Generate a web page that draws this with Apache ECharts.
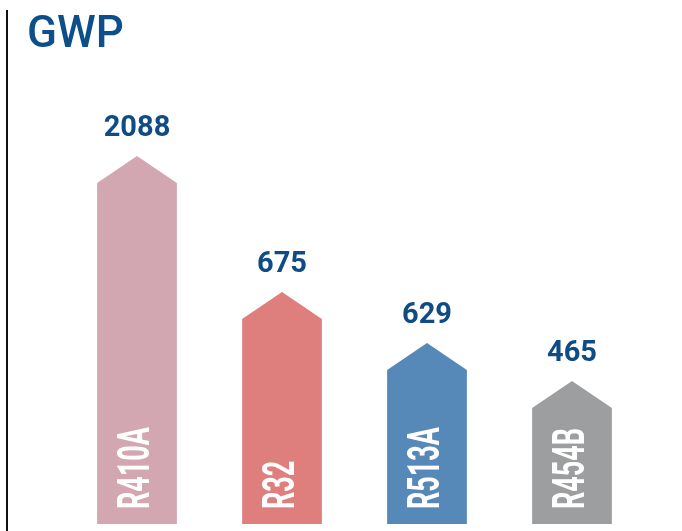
<!DOCTYPE html>
<html>
<head>
<meta charset="utf-8">
<script src="https://cdn.jsdelivr.net/npm/echarts@6/dist/echarts.min.js"></script>
<style>
  html, body { margin: 0; padding: 0; background: #fff; }
  #main { width: 682px; height: 531px; }
</style>
</head>
<body>
<div id="main"></div>
<script>
// refrigerants and their GWP
var refrigerants = ['R410A', 'R32', 'R513A', 'R454B'];
var gwpValues = [2088, 675, 629, 465];
// arrow heights as drawn in the picture (not to scale with the values)
var arrowLevels = [368, 232, 181, 143];
var barColors = ['#d3a7b1', '#df7f7d', '#5688b8', '#9d9ea0'];

var chart = echarts.init(document.getElementById('main'));

function renderArrow(params, api) {
	var idx = api.value(0);
	var top = api.coord([idx, api.value(1)]);
	var base = api.coord([idx, 0]);
	var half = api.size([1, 0])[0] * 0.55 / 2;
	var head = 27;
	var x = top[0];
	return {
		type: 'group',
		children: [
			{
				type: 'polygon',
				shape: {
					points: [
						[x - half, base[1]],
						[x - half, top[1] + head],
						[x, top[1]],
						[x + half, top[1] + head],
						[x + half, base[1]]
					]
				},
				style: { fill: barColors[idx] }
			},
			{
				type: 'text',
				x: x,
				y: top[1] - 13,
				style: {
					text: String(gwpValues[idx]),
					font: 'bold 29px Roboto',
					fill: '#0f4c86',
					align: 'center',
					verticalAlign: 'bottom',
					textAlign: 'center',
					textVerticalAlign: 'bottom'
				}
			},
			{
				type: 'text',
				x: x + 1,
				y: base[1] - 15,
				rotation: Math.PI / 2,
				scaleX: 0.6,
				style: {
					text: refrigerants[idx],
					font: 'bold 45px Roboto',
					fill: '#ffffff',
					align: 'left',
					verticalAlign: 'middle',
					textAlign: 'left',
					textVerticalAlign: 'middle'
				}
			}
		]
	};
}

chart.setOption({
	animation: false,
	title: {
		text: 'GWP',
		left: 22,
		top: 9,
		textStyle: {
			fontFamily: 'Roboto',
			fontSize: 44,
			fontWeight: 500,
			color: '#0d4f8b'
		}
	},
	graphic: [
		{
			type: 'rect',
			shape: { x: 6, y: 10, width: 2, height: 521 },
			style: { fill: '#111' }
		}
	],
	grid: { left: 64.5, right: 37.5, top: 124, bottom: 7 },
	xAxis: {
		type: 'category',
		data: refrigerants,
		show: false
	},
	yAxis: {
		type: 'value',
		min: 0,
		max: 400,
		show: false
	},
	series: [
		{
			type: 'custom',
			renderItem: renderArrow,
			data: arrowLevels.map(function (v, i) { return [i, v]; })
		}
	]
});
</script>
</body>
</html>
